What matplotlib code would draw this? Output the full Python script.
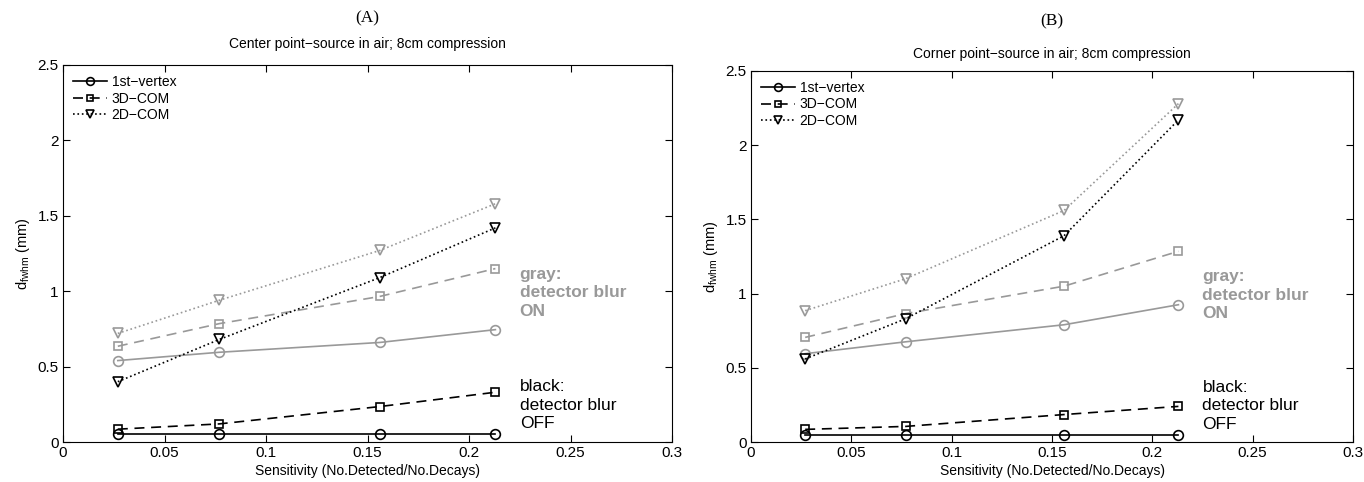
import numpy as np
import matplotlib.pyplot as plt

plt.rcParams['font.family'] = ['Liberation Sans', 'DejaVu Sans']

sens = [0.027, 0.077, 0.156, 0.213]

# panel A: center point-source
a_vert_off = [0.05, 0.05, 0.05, 0.05]
a_com3_off = [0.085, 0.12, 0.235, 0.33]
a_com2_off = [0.40, 0.68, 1.09, 1.42]
a_vert_on = [0.54, 0.595, 0.66, 0.745]
a_com3_on = [0.635, 0.785, 0.965, 1.15]
a_com2_on = [0.72, 0.94, 1.27, 1.58]

# panel B: corner point-source
b_vert_off = [0.05, 0.05, 0.05, 0.05]
b_com3_off = [0.085, 0.105, 0.185, 0.24]
b_com2_off = [0.56, 0.83, 1.39, 2.17]
b_vert_on = [0.595, 0.675, 0.79, 0.925]
b_com3_on = [0.705, 0.865, 1.05, 1.285]
b_com2_on = [0.885, 1.10, 1.56, 2.28]

titles = ['Center point\u2212source in air; 8cm compression',
          'Corner point\u2212source in air; 8cm compression']
panels = ['(A)', '(B)']
gray = '#999999'

W, H = 1364, 482
fig = plt.figure(figsize=(W / 100, H / 100), dpi=100)
ax1 = fig.add_axes([63 / W, 1 - 442 / H, (672 - 63) / W, (442 - 65) / H])
ax2 = fig.add_axes([751 / W, 1 - 442 / H, (1353 - 751) / W, (442 - 71) / H])

data = [
    (a_vert_off, a_com3_off, a_com2_off, a_vert_on, a_com3_on, a_com2_on),
    (b_vert_off, b_com3_off, b_com2_off, b_vert_on, b_com3_on, b_com2_on),
]

for i, (ax, d) in enumerate(zip([ax1, ax2], data)):
    v_off, c3_off, c2_off, v_on, c3_on, c2_on = d
    kw = dict(markerfacecolor='none', linewidth=1.2, markeredgewidth=1.2)
    ax.plot(sens, v_on, '-', marker='o', color=gray, markersize=7, **kw)
    ax.plot(sens, c3_on, '--', marker='s', color=gray, dashes=(6, 4), markersize=5.5, **kw)
    ax.plot(sens, c2_on, ':', marker='v', color=gray, markersize=7, **kw)
    l1, = ax.plot(sens, v_off, '-', marker='o', color='black', markersize=7, **kw)
    l2, = ax.plot(sens, c3_off, '--', marker='s', color='black', dashes=(6, 4), markersize=5.5, **kw)
    l3, = ax.plot(sens, c2_off, ':', marker='v', color='black', markersize=7, **kw)
    ax.legend([l1, l2, l3], ['1st\u2212vertex', '3D\u2212COM', '2D\u2212COM'],
              loc='upper left', frameon=False, fontsize=10, handlelength=2.5,
              labelspacing=0.2, borderaxespad=0.3, handletextpad=0.3, markerscale=0.8)

    ax.set_xlim(0, 0.3)
    ax.set_ylim(0, 2.5)
    ax.set_xticks([0, 0.05, 0.1, 0.15, 0.2, 0.25, 0.3])
    ax.set_xticklabels(['0', '0.05', '0.1', '0.15', '0.2', '0.25', '0.3'])
    ax.set_yticks([0, 0.5, 1, 1.5, 2, 2.5])
    ax.set_yticklabels(['0', '0.5', '1', '1.5', '2', '2.5'])
    ax.tick_params(direction='in', top=True, right=True, labelsize=11, length=5, pad=3)
    ax.set_xlabel('Sensitivity (No.Detected/No.Decays)', fontsize=10, labelpad=3)
    ax.set_ylabel(r'd$_{\mathregular{fwhm}}$ (mm)', fontsize=10.5)

    ax.text(0.225, 0.99, 'gray:\ndetector blur\nON', color=gray, fontsize=12.5,
            fontweight='bold', va='center', ha='left', linespacing=1.3)
    ax.text(0.225, 0.245, 'black:\ndetector blur\nOFF', color='black', fontsize=12.5,
            va='center', ha='left', linespacing=1.3)

# titles and panel labels
fig.text((63 + 672) / 2 / W, 1 - 44 / H, titles[0], fontsize=10, ha='center', va='center')
fig.text((751 + 1353) / 2 / W, 1 - 54 / H, titles[1], fontsize=10, ha='center', va='center')
fig.text((63 + 672) / 2 / W, 1 - 18 / H, panels[0], fontsize=12.5,
         family='Liberation Serif', ha='center', va='center')
fig.text((751 + 1353) / 2 / W, 1 - 21 / H, panels[1], fontsize=12.5,
         family='Liberation Serif', ha='center', va='center')

fig.savefig('out.png', dpi=100)
